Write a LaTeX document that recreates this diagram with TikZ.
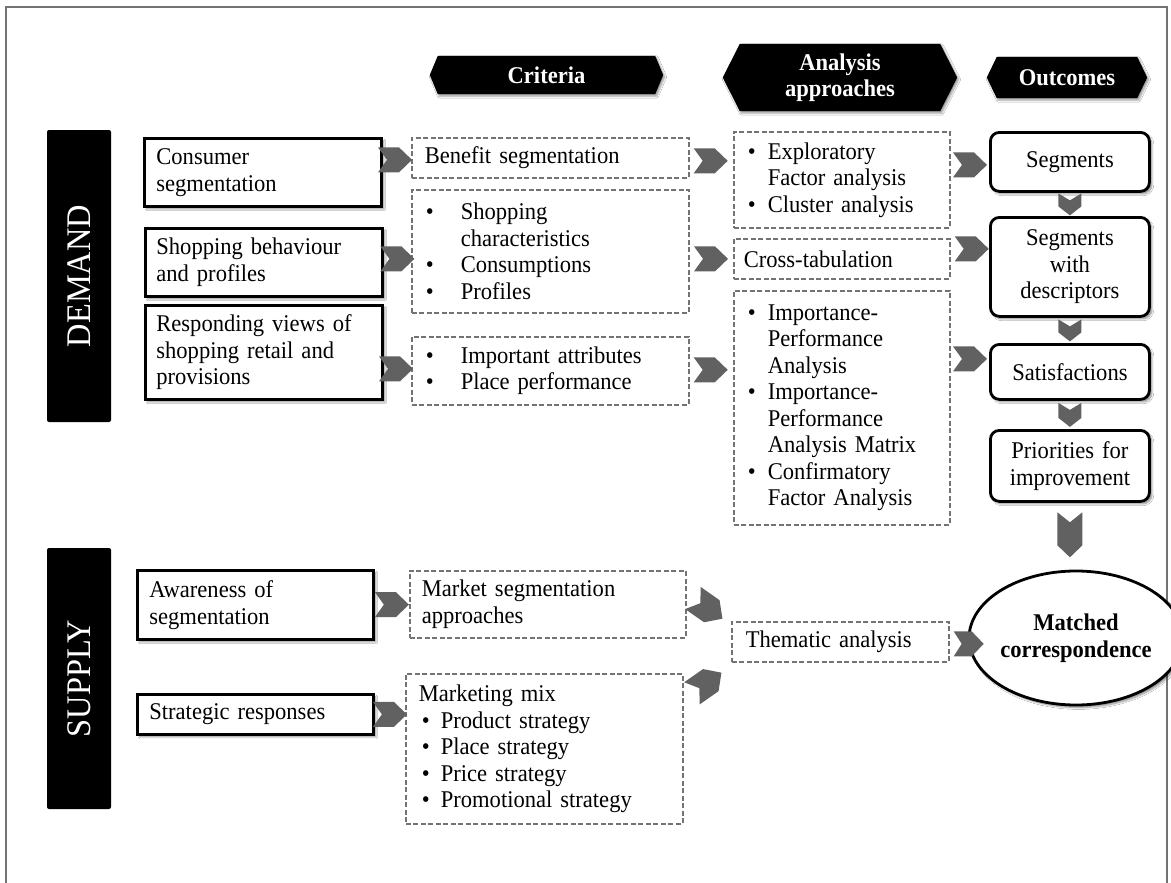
\documentclass[tikz,border=0pt]{standalone}
\usepackage{fontspec}
\setmainfont{Liberation Serif}[FakeStretch=0.94]
\usetikzlibrary{calc,shapes.geometric,shadows.blur}

\newcommand\bodyfont{\fontsize{24}{26.5}\selectfont}
\newcommand\barfont{\fontsize{34.5}{38}\selectfont}
\newcommand\bl[1]{\makebox[#1][l]{\textbullet}}
% black header banner with pointed ends around a placeholder node
\newcommand\headshape[2]{%
  \fill[black, blur shadow={shadow xshift=1.5pt, shadow yshift=-2pt, shadow blur steps=5, shadow opacity=40}]
    (#1.west) -- ($(#1.north west)+(#2,0)$) -- ($(#1.north east)+(-#2,0)$) -- (#1.east)
    -- ($(#1.south east)+(-#2,0)$) -- ($(#1.south west)+(#2,0)$) -- cycle;}

\tikzset{
  softshadow/.style={blur shadow={shadow xshift=2.5pt, shadow yshift=-2.5pt, shadow blur steps=6, shadow opacity=45}},
  solidbox/.style={draw, line width=2.8pt, fill=white, anchor=north west, align=left,
    inner xsep=12pt, inner ysep=0pt, font=\bodyfont, softshadow},
  dashbox/.style={draw=black!55, line width=1.7pt, dash pattern=on 5pt off 2.5pt, fill=white,
    anchor=north west, align=left, inner xsep=12pt, inner ysep=0pt, font=\bodyfont},
  outbox/.style={draw, line width=2.8pt, rounded corners=9pt, fill=white, anchor=north west,
    align=center, inner xsep=4pt, inner ysep=0pt, font=\bodyfont, softshadow},
  headbase/.style={inner sep=0pt},
  headtext/.style={text=white, font=\bodyfont\bfseries, align=center, inner sep=0pt},
  sidebar/.style={fill=black, rounded corners=2pt, text=white, font=\barfont, inner sep=0pt},
  chevfill/.style={fill=black!62},
  pics/chev/.style n args={4}{code={%
    \fill[chevfill] (-#1/2,-#2/2) -- (#1/2-#3,-#2/2) -- (#1/2,0) -- (#1/2-#3,#2/2)
      -- (-#1/2,#2/2) -- (-#1/2+#4,0) -- cycle;}}
}

\begin{document}
\begin{tikzpicture}[x=1pt,y=-1pt]
\useasboundingbox (0,0) rectangle (1171,883);
\fill[white] (0,0) rectangle (1171,883);
\draw[black!55, line width=1.2pt] (6,883) -- (6,7) -- (1167,7) -- (1167,883);

% column headers
\node[headbase, minimum width=233pt, minimum height=38pt] (hcrit) at (546.5,75) {};
\headshape{hcrit}{8}
\node[headtext] (hcritT) at (hcrit) {Criteria};
\node[headbase, minimum width=234pt, minimum height=67pt] (hana) at (840,77.5) {};
\headshape{hana}{17}
\node[headtext] (hanaT) at (hana) {Analysis\\approaches};
\node[headbase, minimum width=160pt, minimum height=41pt] (hout) at (1067,77.5) {};
\headshape{hout}{10}
\node[headtext] (houtT) at (hout) {Outcomes};

% side bars
\node[sidebar, rotate=90, minimum width=292pt, minimum height=64pt] (demand) at (79,276) {DEMAND};
\node[sidebar, rotate=90, minimum width=261pt, minimum height=64pt] (supply) at (79,678.5) {SUPPLY};

% demand: topics
\node[solidbox, text width=213pt, minimum height=68pt] (cons) at (143,137) {Consumer\\segmentation};
\node[solidbox, inner xsep=11pt, text width=215pt, minimum height=68pt] (shop) at (144,227) {Shopping behaviour\\and profiles};
\node[solidbox, inner xsep=11pt, text width=215pt, minimum height=94pt] (resp) at (144,304) {Responding views of\\shopping retail and\\provisions};

% demand: criteria
\node[dashbox, inner xsep=13pt, text width=251pt, minimum height=40pt] (benefit) at (411,137) {Benefit segmentation};
\node[dashbox, inner xsep=14pt, text width=249pt, minimum height=123pt] (shopchar) at (411,189)
  {\bl{35pt}Shopping\\\hspace*{35pt}characteristics\\\bl{35pt}Consumptions\\\bl{35pt}Profiles};
\node[dashbox, inner xsep=14pt, text width=249pt, minimum height=68pt] (important) at (411,336)
  {\bl{35pt}Important attributes\\\bl{35pt}Place performance};

% demand: analysis approaches
\node[dashbox, inner xsep=14pt, text width=188pt, minimum height=96pt] (explor) at (733,131)
  {\bl{20pt}Exploratory\\\hspace*{20pt}Factor analysis\\\bl{20pt}Cluster analysis};
\node[dashbox, inner xsep=10pt, text width=196pt, minimum height=40pt] (cross) at (733,238) {Cross-tabulation};
\node[dashbox, inner xsep=14pt, text width=188pt, minimum height=234pt] (ipa) at (733,290)
  {\bl{20pt}Importance-\\\hspace*{20pt}Performance\\\hspace*{20pt}Analysis\\
   \bl{20pt}Importance-\\\hspace*{20pt}Performance\\\hspace*{20pt}Analysis Matrix\\
   \bl{20pt}Confirmatory\\\hspace*{20pt}Factor Analysis};

% outcomes
\node[outbox, text width=151pt, minimum height=59pt] (seg) at (989,131) {Segments};
\node[outbox, text width=151pt, minimum height=99pt] (segd) at (989,216) {Segments\\with\\descriptors};
\node[outbox, text width=151pt, minimum height=55pt] (sat) at (989,343) {Satisfactions};
\node[outbox, text width=151pt, minimum height=71pt] (prio) at (989,429) {Priorities for\\improvement};
\node[ellipse, draw, line width=2.8pt, fill=white, softshadow, minimum width=182pt, minimum height=134pt,
  inner sep=0pt, align=center, font=\bodyfont\bfseries] (matched) at (1076,638) {Matched\\correspondence};

% supply
\node[solidbox, text width=212pt, minimum height=69pt] (aware) at (136,569) {Awareness of\\segmentation};
\node[solidbox, text width=212pt, minimum height=40pt] (strat) at (136,693) {Strategic responses};
\node[dashbox, inner xsep=12pt, text width=252pt, minimum height=67pt] (market) at (409,570)
  {Market segmentation\\approaches};
\node[dashbox, inner xsep=13pt, text width=251pt, minimum height=150pt] (mix) at (405,673)
  {Marketing mix\\\hspace*{3pt}\bl{19pt}Product strategy\\\hspace*{3pt}\bl{19pt}Place strategy\\
   \hspace*{3pt}\bl{19pt}Price strategy\\\hspace*{3pt}\bl{19pt}Promotional strategy};
\node[dashbox, inner xsep=14pt, text width=189pt, minimum height=40pt] (thematic) at (731,621) {Thematic analysis};

% chevron connectors
\pic at ($(benefit.west)+(-16,2)$) {chev={34}{25}{13}{9}};
\pic at ($(shop.east)!0.5!(shopchar.west)+(0,2)$) {chev={34}{25}{13}{9}};
\pic at ($(important.west)+(-15,-2)$) {chev={34}{25}{13}{9}};
\pic at ($(benefit.east)+(21,3)$) {chev={34}{25}{13}{9}};
\pic at ($(cross.west)+(-22,0)$) {chev={34}{25}{13}{9}};
\pic at ($(important.east)+(21,-1)$) {chev={34}{25}{13}{9}};
\pic at ($(seg.west)+(-19,3)$) {chev={34}{25}{13}{9}};
\pic at ($(cross.east)+(21,-10)$) {chev={34}{25}{13}{9}};
\pic at ($(sat.west)+(-19,-13)$) {chev={34}{25}{13}{9}};
\pic at ($(aware.east)!0.5!(market.west)$) {chev={34}{25}{13}{9}};
\pic at ($(strat.east)!0.5!(strat.east -| mix.west)$) {chev={34}{25}{13}{9}};
\pic[rotate=-35] at ($(market.east)+(21,4)$) {chev={36}{27}{13}{9}};
\pic[rotate=35] at ($(mix.north east)+(23,10)$) {chev={36}{27}{13}{9}};
\pic at ($(thematic.east)+(19,2)$) {chev={30}{25}{12}{8}};
\pic[rotate=-90] at ($(seg.south)!0.5!(segd.north)$) {chev={22}{23}{9}{7}};
\pic[rotate=-90] at ($(segd.south)!0.5!(sat.north)$) {chev={22}{23}{9}{7}};
\pic[rotate=-90] at ($(sat.south)!0.5!(prio.north)$) {chev={24}{23}{9}{7}};
\pic[rotate=-90] at ($(prio.south)+(0,32)$) {chev={45}{25}{12}{10}};
\end{tikzpicture}
\end{document}
